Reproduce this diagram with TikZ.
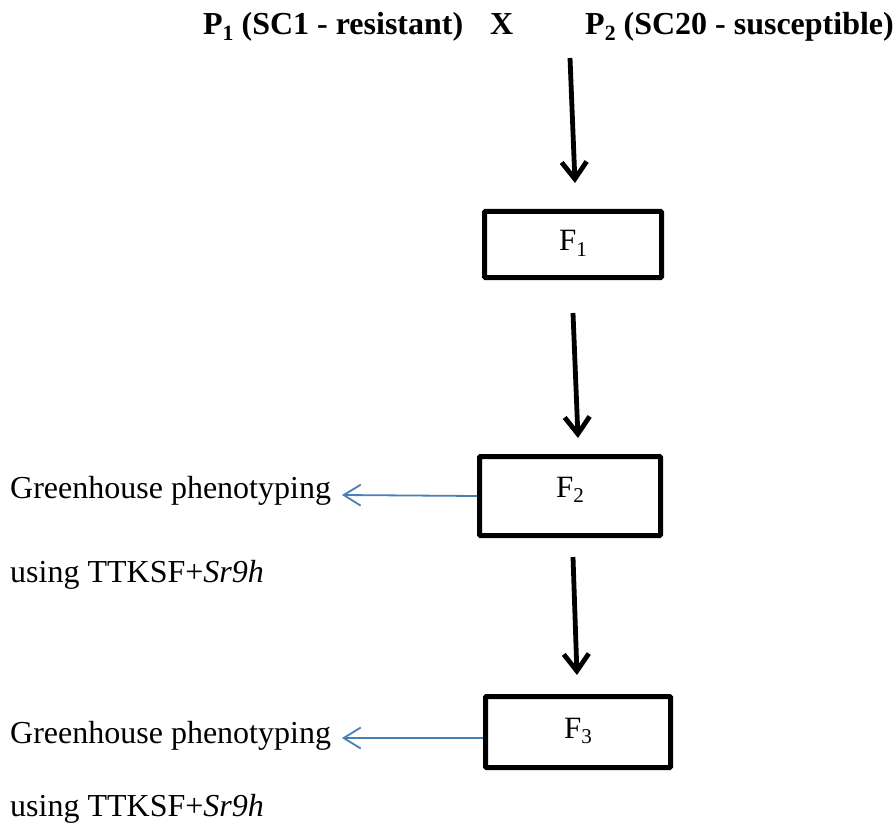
\documentclass[tikz,border=0pt]{standalone}
\usepackage{fontspec}
\setmainfont{Liberation Serif}
\usetikzlibrary{arrows.meta,calc}
\definecolor{linkblue}{HTML}{4A7EBB}
\newcommand\wordsub[1]{\raisebox{-0.18em}{\fontsize{0.68em}{0.8em}\selectfont #1}}
\begin{document}
\begin{tikzpicture}[x=1pt,y=-1pt,
  box/.style={draw=black,line width=5pt,rounded corners=1pt,inner sep=0pt,font=\fontsize{31}{36}\selectfont},
  flow/.style={line width=4.8pt,-{Straight Barb[length=17pt,width=25pt]}},
  side/.style={draw=linkblue,line width=1.8pt,-{Straight Barb[length=17pt,width=21pt]}},
  txt/.style={anchor=base west,inner sep=0pt,font=\fontsize{32}{36}\selectfont},
  ttl/.style={anchor=base west,inner sep=0pt,font=\fontsize{32}{38}\selectfont\bfseries}]
\useasboundingbox (0,0) rectangle (896,834);
\node[ttl] (p1) at (203,35) {P\wordsub{1} (SC1 - resistant)};
\node[ttl] (x) at (490,35) {X};
\node[ttl] (p2) at (585,35) {P\wordsub{2} (SC20 - susceptible)};
\node[box,minimum width=177pt,minimum height=66pt,text height=22pt,text depth=9pt] (f1) at (573,244.5) {F\wordsub{1}};
\node[box,minimum width=181pt,minimum height=79pt,text height=22pt,text depth=20pt] (f2) at (570,496) {F\wordsub{2}};
\node[box,minimum width=185pt,minimum height=71pt,text height=22pt,text depth=10pt] (f3) at (578,732) {F\wordsub{3}};
\coordinate (a1s) at (570,58);
\coordinate (a1e) at (575,183);
\coordinate (a2s) at (573,313);
\coordinate (a2e) at (578,438);
\coordinate (a3s) at (573,557);
\coordinate (a3e) at (577,675);
\draw[flow] (a1s) -- (a1e);
\draw[flow] (a2s) -- (a2e);
\draw[flow] (a3s) -- (a3e);
\node[txt] (g1) at (10,498) {Greenhouse phenotyping};
\node[txt] (u1) at (10,582) {using TTKSF+\textit{Sr9h}};
\node[txt] (g2) at (10,743) {Greenhouse phenotyping};
\node[txt] (u2) at (10,816) {using TTKSF+\textit{Sr9h}};
\coordinate (t1) at (342,495);
\coordinate (t2) at (342,738);
\draw[side] (f2.west) -- (t1);
\draw[side] ($(f3.west)+(0,6)$) -- (t2);
\end{tikzpicture}
\end{document}
